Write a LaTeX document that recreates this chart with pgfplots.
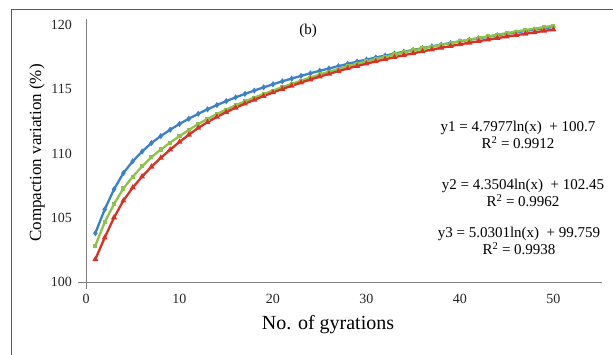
\documentclass[border=0pt]{standalone}
\usepackage{pgfplots}
\usepackage{pgfplotstable}
\pgfplotsset{compat=1.18}
\usepackage{fontspec}
\setmainfont{Liberation Serif}
\definecolor{cblue}{RGB}{58,128,204}
\definecolor{cgreen}{RGB}{140,196,74}
\definecolor{cred}{RGB}{218,48,38}
\definecolor{axgray}{RGB}{128,128,128}
\definecolor{framegray}{RGB}{90,90,90}

\pgfplotstableread{
x b g r
1 103.80 102.83 101.77
2 105.65 104.65 103.45
3 107.22 106.07 105.02
4 108.48 107.28 106.33
5 109.40 108.20 107.35
6 110.15 109.00 108.20
7 110.82 109.72 108.97
8 111.36 110.31 109.66
9 111.85 110.85 110.30
10 112.30 111.35 110.90
11 112.71 111.83 111.46
12 113.09 112.29 111.99
13 113.44 112.69 112.44
14 113.77 113.07 112.85
15 114.08 113.42 113.22
16 114.37 113.75 113.56
17 114.64 114.06 113.88
18 114.90 114.35 114.18
19 115.15 114.63 114.47
20 115.39 114.90 114.75
21 115.62 115.17 115.02
22 115.83 115.42 115.27
23 116.04 115.67 115.52
24 116.24 115.91 115.76
25 116.44 116.15 115.99
26 116.62 116.37 116.20
27 116.80 116.58 116.41
28 116.98 116.79 116.62
29 117.15 116.99 116.81
30 117.31 117.18 116.99
31 117.47 117.36 117.17
32 117.62 117.53 117.33
33 117.78 117.71 117.50
34 117.92 117.87 117.65
35 118.06 118.02 117.80
36 118.20 118.17 117.95
37 118.34 118.32 118.09
38 118.47 118.46 118.23
39 118.60 118.60 118.36
40 118.73 118.73 118.50
41 118.85 118.86 118.62
42 118.97 118.99 118.74
43 119.09 119.12 118.87
44 119.20 119.24 118.98
45 119.32 119.37 119.10
46 119.43 119.49 119.21
47 119.54 119.61 119.32
48 119.64 119.72 119.43
49 119.75 119.84 119.54
50 119.85 119.95 119.64
}\datatable

\begin{document}
\begin{tikzpicture}
\useasboundingbox (0,0) rectangle (613bp,355bp);
\fill[white] (0,0) rectangle (613bp,355bp);
\draw[framegray, line width=0.9bp] (11.7bp,0) -- (11.7bp,346bp) -- (613bp,346bp);
\begin{axis}[
  at={(86bp,73bp)}, anchor=south west,
  scale only axis, width=516bp, height=263bp,
  xmin=0, xmax=55.2, ymin=100, ymax=120.47,
  axis lines*=left,
  axis line style={axgray, line width=0.9bp},
  xtick={0,10,20,30,40,50},
  ytick={100,105,110,115,120},
  major tick length=0pt,
  tick style={draw=none},
  /pgf/number format/assume math mode=true,
  ticklabel style={font=\fontsize{14bp}{16bp}\selectfont, text=black!85},
  yticklabel style={anchor=east, inner sep=0pt, xshift=-14bp},
  xticklabel style={anchor=north, inner sep=0pt, yshift=-12bp},
  clip=false,
]
\addplot[cblue, line width=2.3bp, mark=diamond*, mark size=1.2bp] table[x=x, y=b] {\datatable};
\addplot[cgreen, line width=2.3bp, mark=square*, mark size=0.9bp] table[x=x, y=g] {\datatable};
\addplot[cred, line width=2.3bp, mark=triangle*, mark size=1.2bp] table[x=x, y=r] {\datatable};
\coordinate (O) at (axis cs:0,100);
\end{axis}
\draw[axgray, line width=0.9bp] (O) -- ++(-8bp,0);
\draw[axgray, line width=0.9bp] (O) -- ++(0,-7bp);
\node[rotate=90, font=\fontsize{17bp}{20bp}\selectfont] at (37bp,202bp) {Compaction variation (\%)};
\node[font=\fontsize{20bp}{24bp}\selectfont] at (328bp,30bp) {No. of gyrations};
\node[font=\fontsize{15bp}{18bp}\selectfont] at (308bp,324bp) {(b)};
\begin{scope}[every node/.style={font=\fontsize{15bp}{18bp}\selectfont, inner sep=0pt}]
\node at (518bp,227bp) {y1 = 4.7977ln(x) \ + 100.7};
\node at (518bp,212bp) {R\textsuperscript{2} = 0.9912};
\node at (523bp,169bp) {y2 = 4.3504ln(x) \ + 102.45};
\node at (523bp,154bp) {R\textsuperscript{2} = 0.9962};
\node at (519bp,121bp) {y3 = 5.0301ln(x) \ + 99.759};
\node at (519bp,106bp) {R\textsuperscript{2} = 0.9938};
\end{scope}
\end{tikzpicture}
\end{document}
